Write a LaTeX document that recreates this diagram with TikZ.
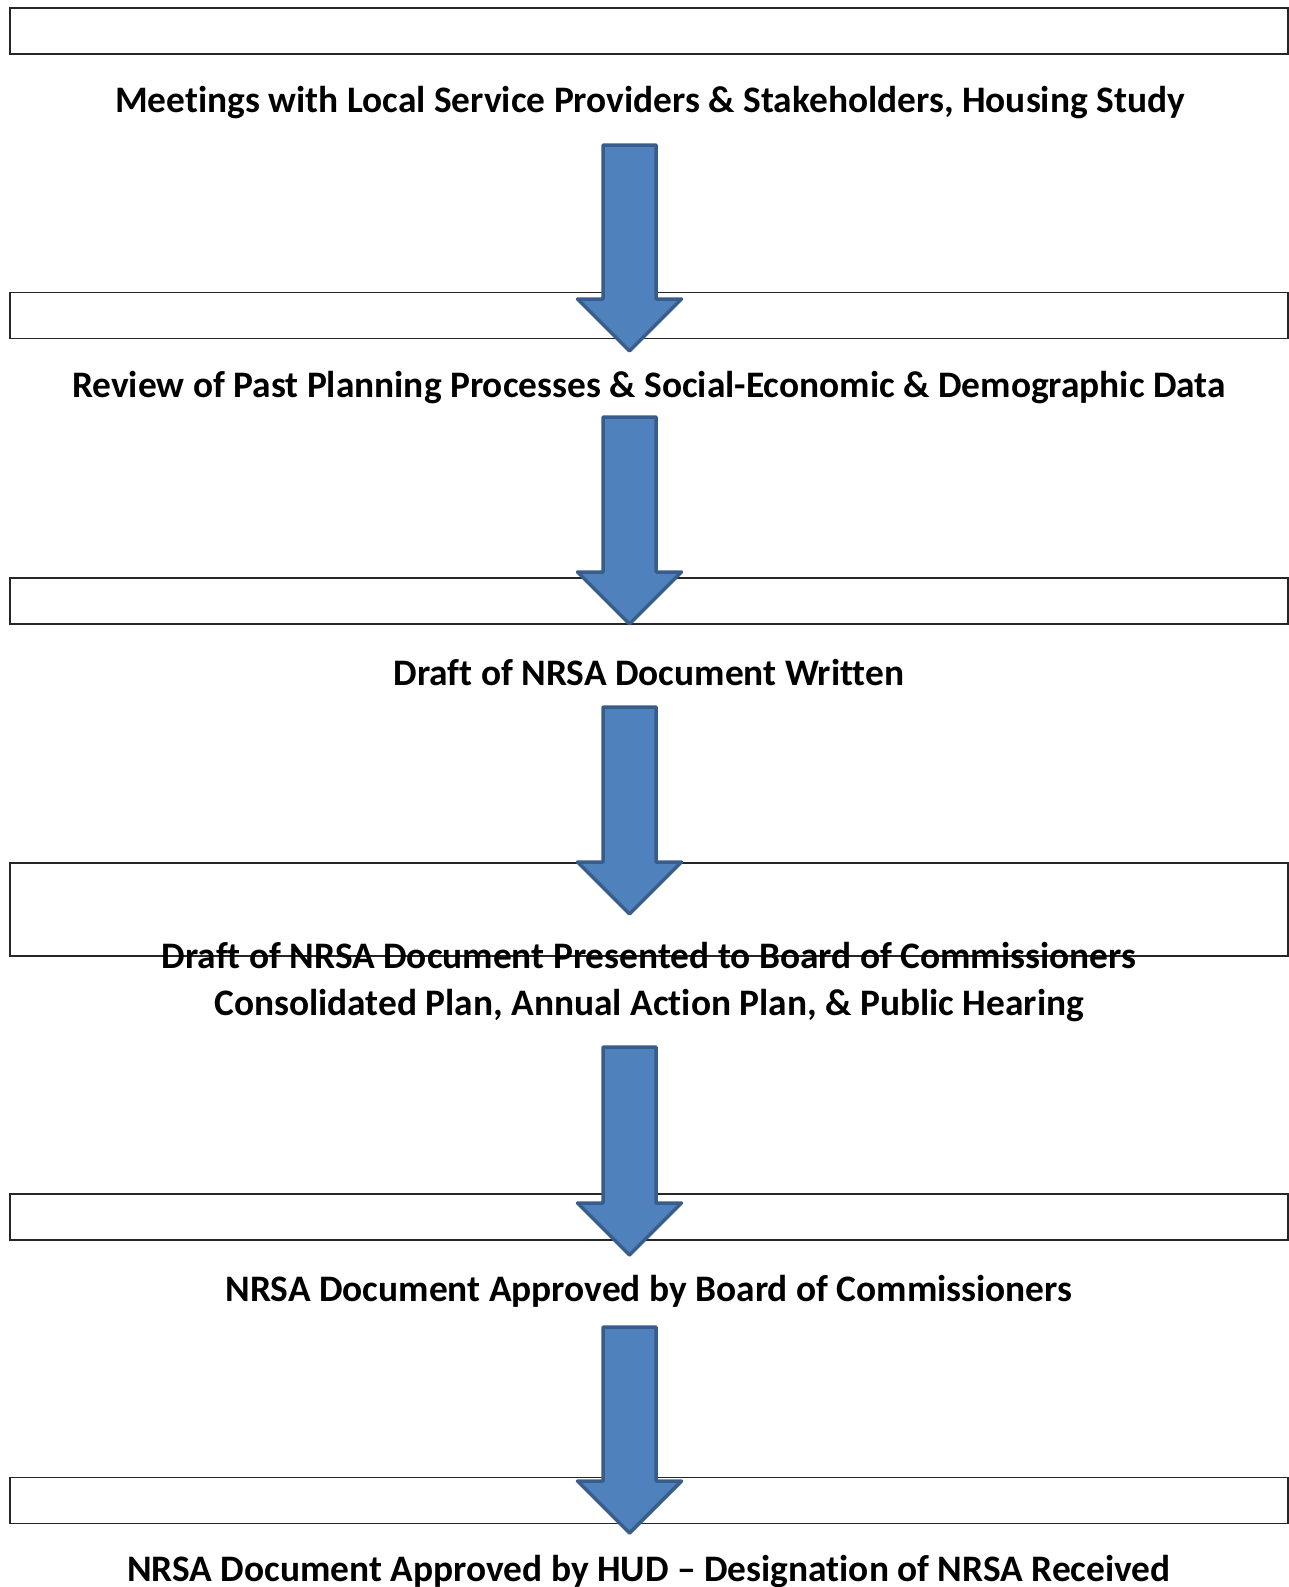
\documentclass[tikz,border=0pt]{standalone}
\usepackage{fontspec}
\setmainfont{Carlito}[Ligatures=NoCommon]
\usetikzlibrary{calc}
\definecolor{arrowfill}{HTML}{4F81BD}
\definecolor{arrowline}{HTML}{385D8A}
\tikzset{
  stepbox/.style={draw=black!85, line width=1.5pt, minimum width=1278pt, minimum height=46pt, inner sep=0pt},
  steptext/.style={font=\fontsize{37.4}{47}\selectfont\bfseries, align=center, inner sep=0pt},
  blockarrow/.style={draw=arrowline, fill=arrowfill, line width=3.5pt, line join=round}
}
\begin{document}
\begin{tikzpicture}[x=1pt, y=-1pt]
\useasboundingbox (0,0) rectangle (1289,1587);
%Nodes
\node[stepbox] (box1) at (649,31) {};
\node[steptext] (text1) at (650,103) {Meetings with Local Service Providers \& Stakeholders, Housing Study};

\node[stepbox] (box2) at (649,315.5) {};
\node[steptext] (text2) at (649,388) {Review of Past Planning Processes \& Social-Economic \& Demographic Data};

\node[stepbox] (box3) at (649,601) {};
\node[steptext] (text3) at (649,673) {Draft of NRSA Document Written};

\node[stepbox, minimum height=93pt] (box4) at (649,909.5) {};
\node[steptext] (text4) at (649,982.5) {Draft of NRSA Document Presented to Board of Commissioners\\Consolidated Plan, Annual Action Plan, \& Public Hearing};

\node[stepbox] (box5) at (649,1217) {};
\node[steptext] (text5) at (649,1291) {NRSA Document Approved by Board of Commissioners};

\node[stepbox] (box6) at (649,1500.5) {};
\node[steptext] (text6) at (649,1572) {NRSA Document Approved by HUD -- Designation of NRSA Received};

%Arrows
\coordinate (top1) at (629.5,145);
\coordinate (tip1) at (629.5,351);
\coordinate (top2) at (629.5,417);
\coordinate (tip2) at (629.5,624);
\coordinate (top3) at (629.5,707);
\coordinate (tip3) at (629.5,914);
\coordinate (top4) at (629.5,1047);
\coordinate (tip4) at (629.5,1255);
\coordinate (top5) at (629.5,1327);
\coordinate (tip5) at (629.5,1533);

\foreach \i in {1,...,5}{
\draw[blockarrow] ($(top\i)+(-26.5,0)$) -- ($(top\i)+(26.5,0)$) -- ($(tip\i)+(26.5,-52)$)
  -- ($(tip\i)+(52,-52)$) -- (tip\i) -- ($(tip\i)+(-52,-52)$) -- ($(tip\i)+(-26.5,-52)$) -- cycle;
}
\end{tikzpicture}
\end{document}
